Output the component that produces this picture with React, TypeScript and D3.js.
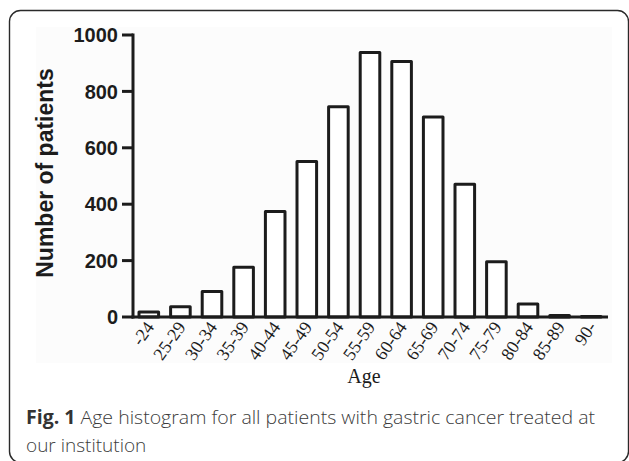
import React from "react";
import * as d3 from "d3";

const categories = ["-24", "25-29", "30-34", "35-39", "40-44", "45-49", "50-54", "55-59", "60-64", "65-69", "70-74", "75-79", "80-84", "85-89", "90-"];
const counts = [18, 36, 90, 176, 374, 551, 746, 938, 906, 709, 471, 196, 46, 5, 2];
const yTicks = [0, 200, 400, 600, 800, 1000];
const yTitle = "Number of patients";
const xTitle = "Age";
const captionBold = "Fig. 1";
const captionLine1 = " Age histogram for all patients with gastric cancer treated at";
const captionLine2 = "our institution";

const W = 629;
const H = 461;

export default function App() {
  const x = d3
    .scaleBand<string>()
    .domain(categories)
    .range([133, 607])
    .paddingInner(0.38)
    .paddingOuter(0.19);
  const y = d3.scaleLinear().domain([0, 1000]).range([317, 35]);
  const ink = "#1c1c1c";

  return (
    <div style={{ position: "absolute", left: 0, top: 0 }}>
      <svg width={W} height={H} style={{ display: "block" }}>
        <rect x={0} y={0} width={W} height={H} fill="#ffffff" />
        <rect x={9.5} y={10.5} width={619} height={452} rx={11} ry={11} fill="none" stroke="#2a2a2a" strokeWidth={1.4} />
        <rect x={36} y={27} width={576} height={336} fill="#fcfcfc" />

        {/* bars */}
        {categories.map((c, i) => (
          <rect
            key={c}
            x={x(c)!}
            y={y(counts[i])}
            width={x.bandwidth()}
            height={Math.max(0, y(0) - y(counts[i]))}
            fill="#ffffff"
            stroke={ink}
            strokeWidth={3}
            strokeLinejoin="round"
          />
        ))}

        {/* y axis */}
        <line x1={133} x2={133} y1={y(1000) - 1.5} y2={y(0) + 1.5} stroke={ink} strokeWidth={3} />
        {yTicks.map((t) => (
          <g key={t}>
            <line x1={122} x2={133} y1={y(t)} y2={y(t)} stroke={ink} strokeWidth={3} />
            <text
              x={118}
              y={y(t)}
              dy="0.36em"
              textAnchor="end"
              fontFamily="'Liberation Sans', Arial, sans-serif"
              fontWeight="bold"
              fontSize={20}
              fill={ink}
            >
              {t}
            </text>
          </g>
        ))}
        {/* x axis */}
        <line x1={131.5} x2={608} y1={y(0)} y2={y(0)} stroke={ink} strokeWidth={3} />

        {/* x tick labels */}
        {categories.map((c) => {
          const cx = x(c)! + x.bandwidth() / 2;
          const ax = cx + 6;
          const ay = 327;
          return (
            <text
              key={c}
              x={ax}
              y={ay}
              textAnchor="end"
              transform={`rotate(-55, ${ax}, ${ay})`}
              fontFamily="'Liberation Serif', 'Times New Roman', serif"
              fontSize={18}
              fill={ink}
            >
              {c}
            </text>
          );
        })}

        {/* axis titles */}
        <text
          x={364}
          y={383}
          textAnchor="middle"
          fontFamily="'Liberation Serif', 'Times New Roman', serif"
          fontSize={20}
          fill={ink}
        >
          {xTitle}
        </text>
        <text
          transform={`translate(53, 173) rotate(-90)`}
          textAnchor="middle"
          fontFamily="'Liberation Sans', Arial, sans-serif"
          fontWeight="bold"
          fontSize={23}
          fill={ink}
        >
          {yTitle}
        </text>

        {/* caption */}
        <text x={26} y={424} fontFamily="'Open Sans', sans-serif" fontSize={19} fontWeight={300} fill="#3c3c3c" textLength={569} lengthAdjust="spacingAndGlyphs">
          <tspan fontWeight="bold" fill="#333333">{captionBold}</tspan>
          <tspan>{captionLine1}</tspan>
        </text>
        <text x={26} y={452} fontFamily="'Open Sans', sans-serif" fontSize={19} fontWeight={300} fill="#3c3c3c">
          {captionLine2}
        </text>
      </svg>
    </div>
  );
}
